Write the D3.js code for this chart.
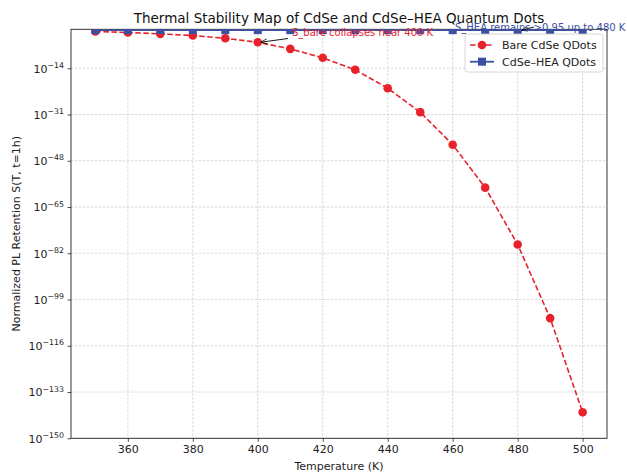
<!DOCTYPE html>
<html>
<head>
<meta charset="utf-8">
<script src="https://cdn.jsdelivr.net/npm/d3@7"></script>
<style>
  body { margin: 0; background: #fff; }
  svg text { font-family: "DejaVu Sans", sans-serif; }
</style>
</head>
<body>
<svg id="chart"></svg>
<script>
const temperatures = [350, 360, 370, 380, 390, 400, 410, 420, 430, 440, 450, 460, 470, 480, 490, 500];
const bareValues = [3.2e-1, 1.3e-1, 4.2e-2, 1.0e-2, 1.0e-3, 3.5e-5, 1.3e-7, 6.6e-11, 2.6e-15, 4.6e-22,
  7.1e-31, 7.9e-43, 1.3e-58, 1.6e-79, 1.4e-106, 3.5e-141];
const heaValues = [0.999, 0.998, 0.997, 0.995, 0.993, 0.99, 0.987, 0.983, 0.978, 0.972,
  0.966, 0.96, 0.955, 0.951, 0.945, 0.938];
const xTicks = [360, 380, 400, 420, 440, 460, 480, 500];
const yTickExponents = [-150, -133, -116, -99, -82, -65, -48, -31, -14];
const seriesNames = ["Bare CdSe QDots", "CdSe\u2013HEA QDots"];

const width = 627;
const height = 473;
const margin = { top: 29.3, right: 20, bottom: 34.7, left: 71 };
const red = "#e8212b";
const blue = "#3b4fa3";

const svg = d3.select("#chart")
  .attr("width", width)
  .attr("height", height);

const x = d3.scaleLinear()
  .domain([342.5, 507.5])
  .range([margin.left, width - margin.right]);

const y = d3.scaleLog()
  .domain([1e-150, 2])
  .range([height - margin.bottom, margin.top]);

svg.append("defs").append("clipPath")
  .attr("id", "plot-clip")
  .append("rect")
  .attr("x", margin.left)
  .attr("y", margin.top)
  .attr("width", width - margin.left - margin.right)
  .attr("height", height - margin.top - margin.bottom);

// grid
const grid = svg.append("g").attr("stroke", "#b0b0b0").attr("stroke-width", 0.6)
  .attr("stroke-dasharray", "2.5,1.5").attr("opacity", 0.8);
grid.selectAll(".gx").data(xTicks).enter().append("line")
  .attr("x1", d => x(d)).attr("x2", d => x(d))
  .attr("y1", margin.top).attr("y2", height - margin.bottom);
grid.selectAll(".gy").data(yTickExponents).enter().append("line")
  .attr("x1", margin.left).attr("x2", width - margin.right)
  .attr("y1", d => y(Math.pow(10, d))).attr("y2", d => y(Math.pow(10, d)));

// axes
const xAxis = svg.append("g")
  .attr("transform", `translate(0,${height - margin.bottom})`)
  .call(d3.axisBottom(x).tickValues(xTicks).tickSize(3.5).tickPadding(3.5));

const yAxis = svg.append("g")
  .attr("transform", `translate(${margin.left},0)`)
  .call(d3.axisLeft(y).tickValues(yTickExponents.map(e => Math.pow(10, e)))
    .tickSize(3.5).tickPadding(3.5).tickFormat(""));

[xAxis, yAxis].forEach(a => {
  a.select(".domain").remove();
  a.selectAll("text").attr("font-size", 11).attr("fill", "#222")
    .style("font-family", "DejaVu Sans, sans-serif");
  a.selectAll("line").attr("stroke", "#222").attr("stroke-width", 0.8);
});

yAxis.selectAll(".tick").each(function(d) {
  const t = d3.select(this).select("text")
    .attr("dy", "0.35em");
  t.append("tspan").text("10");
  t.append("tspan").attr("font-size", 7.8).attr("dy", "-0.6em")
    .text("\u2212" + Math.round(-Math.log10(d)));
});

// frame
svg.append("rect")
  .attr("x", margin.left).attr("y", margin.top)
  .attr("width", width - margin.left - margin.right)
  .attr("height", height - margin.top - margin.bottom)
  .attr("fill", "none").attr("stroke", "#222").attr("stroke-width", 0.9);

// series
const plot = svg.append("g").attr("clip-path", "url(#plot-clip)");

const bareData = temperatures.map((t, i) => ({ t, v: bareValues[i] }));
const heaData = temperatures.map((t, i) => ({ t, v: heaValues[i] }));
const line = d3.line().x(d => x(d.t)).y(d => y(d.v));

plot.append("path").datum(bareData)
  .attr("d", line).attr("fill", "none").attr("stroke", red)
  .attr("stroke-width", 1.6).attr("stroke-dasharray", "5.5,2.5");
plot.selectAll(".bare").data(bareData).enter().append("circle")
  .attr("cx", d => x(d.t)).attr("cy", d => y(d.v)).attr("r", 4.3).attr("fill", red);

plot.append("path").datum(heaData)
  .attr("d", line).attr("fill", "none").attr("stroke", blue).attr("stroke-width", 1.8);
plot.selectAll(".hea").data(heaData).enter().append("rect")
  .attr("x", d => x(d.t) - 4).attr("y", d => y(d.v) - 4)
  .attr("width", 8).attr("height", 8).attr("fill", blue);

// annotations
svg.append("defs").append("marker")
  .attr("id", "arrow").attr("viewBox", "0 0 10 10")
  .attr("refX", 10).attr("refY", 5)
  .attr("markerWidth", 7).attr("markerHeight", 7).attr("orient", "auto")
  .append("path").attr("d", "M0,1 L10,5 L0,9").attr("fill", "none")
  .attr("stroke", "#000").attr("stroke-width", 1.2);

svg.append("line")
  .attr("x1", 288).attr("y1", 38.5)
  .attr("x2", x(400) + 3).attr("y2", y(bareValues[5]))
  .attr("stroke", "#000").attr("stroke-width", 0.9).attr("marker-end", "url(#arrow)");

svg.append("text")
  .attr("x", 292).attr("y", 36).attr("font-size", 10).attr("fill", red)
  .text("S_bare collapses near 400 K");

svg.append("line")
  .attr("x1", 534).attr("y1", 27)
  .attr("x2", x(480) + 4).attr("y2", y(heaValues[13]))
  .attr("stroke", "#000").attr("stroke-width", 0.9).attr("marker-end", "url(#arrow)");

svg.append("text")
  .attr("x", 455).attr("y", 31.3).attr("font-size", 10).attr("fill", blue)
  .text("S_HEA remains >0.95 up to 480 K");

// legend
const legend = svg.append("g").attr("transform", "translate(465,34)");
legend.append("rect")
  .attr("width", 138).attr("height", 38).attr("rx", 2.5)
  .attr("fill", "#fff").attr("fill-opacity", 0.8)
  .attr("stroke", "#ccc").attr("stroke-width", 0.8);

const items = legend.selectAll(".item").data(seriesNames).enter().append("g")
  .attr("transform", (d, i) => `translate(0,${11 + i * 16.7})`);
items.append("line")
  .attr("x1", 5).attr("x2", 29).attr("y1", 0).attr("y2", 0)
  .attr("stroke", (d, i) => i === 0 ? red : blue)
  .attr("stroke-width", (d, i) => i === 0 ? 1.6 : 1.8)
  .attr("stroke-dasharray", (d, i) => i === 0 ? "5.5,2.5" : null);
items.each(function(d, i) {
  const g = d3.select(this);
  if (i === 0) g.append("circle").attr("cx", 17).attr("cy", 0).attr("r", 4.3).attr("fill", red);
  else g.append("rect").attr("x", 13).attr("y", -4).attr("width", 8).attr("height", 8).attr("fill", blue);
});
items.append("text")
  .attr("x", 37).attr("y", 0).attr("dy", "0.35em").attr("font-size", 11).attr("fill", "#222")
  .text(d => d);

// titles
svg.append("text")
  .attr("x", (margin.left + width - margin.right) / 2).attr("y", 22.5)
  .attr("text-anchor", "middle").attr("font-size", 13.5).attr("fill", "#111")
  .text("Thermal Stability Map of CdSe and CdSe\u2013HEA Quantum Dots");

svg.append("text")
  .attr("x", (margin.left + width - margin.right) / 2).attr("y", 470)
  .attr("text-anchor", "middle").attr("font-size", 11).attr("fill", "#222")
  .text("Temperature (K)");

svg.append("text")
  .attr("transform", `translate(20,${(margin.top + height - margin.bottom) / 2}) rotate(-90)`)
  .attr("text-anchor", "middle").attr("font-size", 11).attr("fill", "#222")
  .text("Normalized PL Retention S(T, t=1h)");
</script>
</body>
</html>
